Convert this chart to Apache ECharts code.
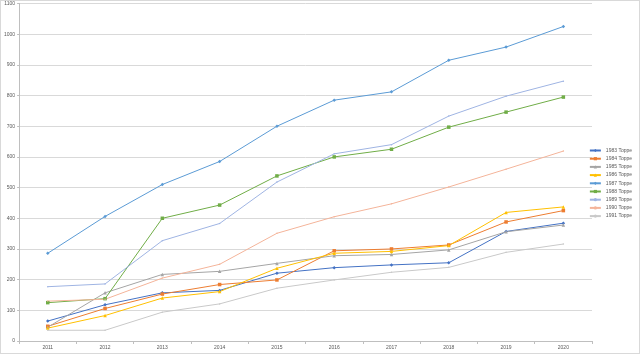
<!DOCTYPE html>
<html>
<head>
<meta charset="utf-8">
<script src="https://cdn.jsdelivr.net/npm/echarts@6/dist/echarts.min.js"></script>
<style>
  html, body { margin: 0; padding: 0; background: #fff; }
  #chart { width: 638px; height: 352px; border: 1px solid #d9d9d9; }
</style>
</head>
<body>
<div id="chart"></div>
<script>
// years on the x axis
const years = ["2011", "2012", "2013", "2014", "2015", "2016", "2017", "2018", "2019", "2020"];

// one array per series
const t1983 = [65, 118, 157, 165, 221, 239, 248, 255, 357, 384];
const t1984 = [48, 106, 153, 184, 199, 294, 300, 313, 388, 425];
const t1985 = [45, 157, 217, 227, 253, 278, 282, 297, 356, 378];
const t1986 = [42, 83, 140, 161, 237, 286, 292, 311, 419, 437];
const t1987 = [286, 406, 510, 585, 700, 785, 812, 915, 958, 1025];
const t1988 = [125, 138, 400, 443, 538, 600, 625, 697, 746, 795];
const t1989 = [177, 186, 327, 383, 518, 610, 640, 733, 798, 847];
const t1990 = [130, 136, 205, 250, 351, 405, 447, 502, 560, 619];
const t1991 = [35, 35, 94, 121, 172, 199, 224, 240, 289, 316];

const names = ["1983 Toppe", "1984 Toppe", "1985 Toppe", "1986 Toppe", "1987 Toppe",
  "1988 Toppe", "1989 Toppe", "1990 Toppe", "1991 Toppe"];
const values = [t1983, t1984, t1985, t1986, t1987, t1988, t1989, t1990, t1991];
const colors = ["#4472c4", "#ed7d31", "#a5a5a5", "#ffc000", "#5b9bd5",
  "#70ad47", "#9fb4e3", "#f4b49a", "#c9c9c9"];
const shapes = ["diamond", "rect", "triangle", "triangle", "diamond",
  "rect", "none", "none", "none"];

const chart = echarts.init(document.getElementById("chart"));

chart.setOption({
  animation: false,
  color: colors,
  grid: { left: 17, right: 47, top: 1, bottom: 12 },
  legend: {
    orient: "vertical",
    right: 2,
    top: 142,
    itemWidth: 11,
    itemHeight: 4,
    itemGap: 3.2,
    textStyle: { fontSize: 5, color: "#595959", fontFamily: "Liberation Sans" },
    data: names
  },
  xAxis: {
    type: "category",
    data: years,
    boundaryGap: true,
    axisLine: { lineStyle: { color: "#bfbfbf", width: 1 } },
    axisTick: { show: true, length: 3, lineStyle: { color: "#bfbfbf" } },
    axisLabel: { fontSize: 5, color: "#595959", margin: 4, fontFamily: "Liberation Sans" }
  },
  yAxis: {
    type: "value",
    min: 0,
    max: 1100,
    interval: 100,
    axisLine: { show: true, lineStyle: { color: "#bfbfbf", width: 1 } },
    axisTick: { show: true, length: 2, lineStyle: { color: "#bfbfbf" } },
    axisLabel: {
      fontSize: 5, color: "#595959", margin: 4, fontFamily: "Liberation Sans",
      formatter: v => String(v)
    },
    splitLine: { lineStyle: { color: "#d9d9d9", width: 1 } }
  },
  series: names.map((n, i) => ({
    name: n,
    type: "line",
    data: values[i],
    symbol: shapes[i] === "none" ? "circle" : shapes[i],
    symbolSize: shapes[i] === "none" ? 1.5 : 3.5,
    showSymbol: true,
    lineStyle: { width: 1 },
    itemStyle: { color: colors[i] }
  }))
});
</script>
</body>
</html>
